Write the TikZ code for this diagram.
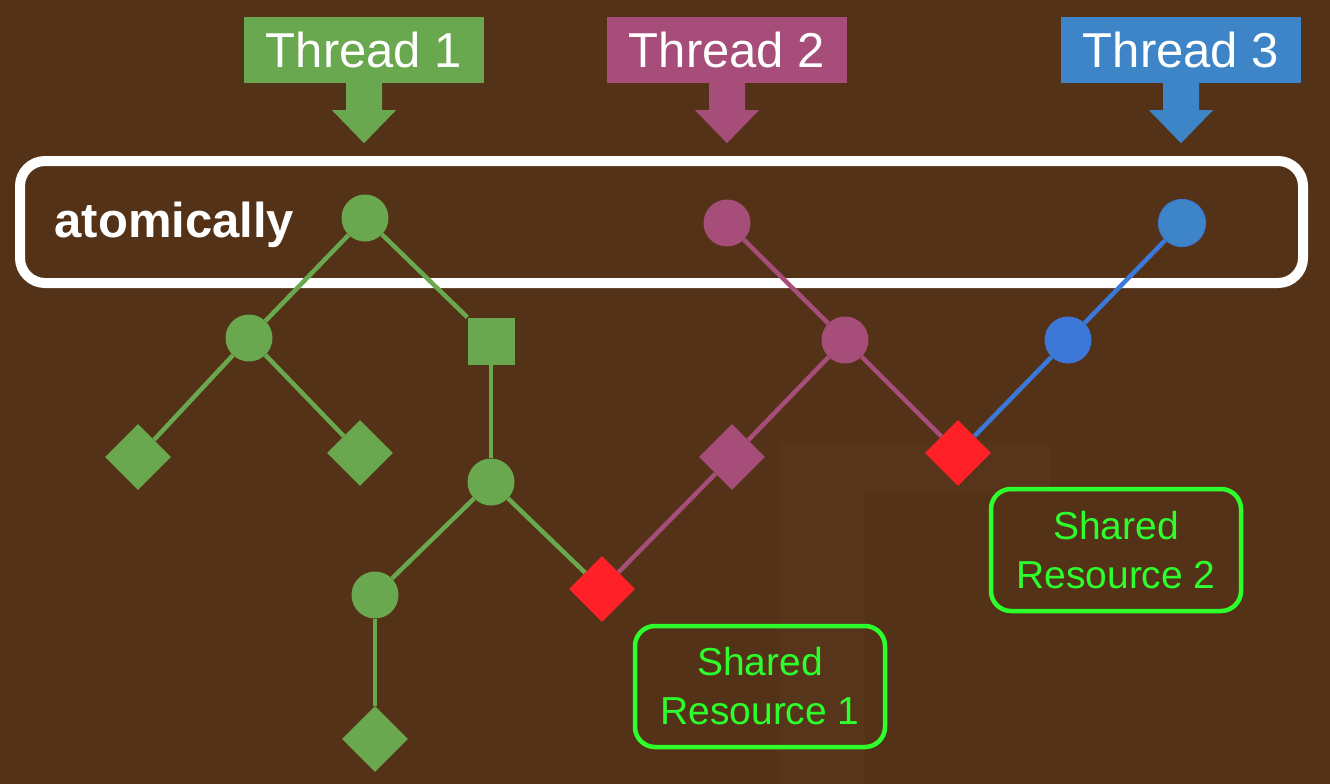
\documentclass[tikz,border=0pt]{standalone}
\usepackage{fontspec}
\setmainfont{Liberation Sans}
\usetikzlibrary{shapes.geometric}
\definecolor{bgc}{RGB}{83,50,23}
\definecolor{bgl}{RGB}{96,61,33}
\definecolor{tgreen}{RGB}{106,168,79}
\definecolor{tpurple}{RGB}{166,77,121}
\definecolor{tblue}{RGB}{61,133,198}
\definecolor{tblueb}{RGB}{60,120,216}
\definecolor{tred}{RGB}{255,32,40}
\definecolor{rgreen}{RGB}{45,255,45}
\tikzset{
  threadbox/.style={rectangle, inner sep=0pt, minimum width=240pt, minimum height=66pt,
    text=white, font=\fontsize{49}{56}\selectfont},
  cnode/.style={circle, inner sep=0pt, minimum size=47pt, fill=#1},
  snode/.style={rectangle, inner sep=0pt, minimum size=47pt, fill=#1},
  dnode/.style={diamond, aspect=1, inner sep=0pt, minimum size=66pt, fill=#1},
  edge/.style={line width=4.5pt, draw=#1},
  resbox/.style={draw=rgreen, line width=4.5pt, rounded corners=20pt, inner sep=0pt,
    minimum width=250pt, text=rgreen, align=center, font=\fontsize{39}{49}\selectfont},
}
\begin{document}
\begin{tikzpicture}[x=1pt,y=-1pt]
\fill[bgc] (0,0) rectangle (1330,784);
\useasboundingbox (0,0) rectangle (1330,784);
% faint background texture band
\fill[bgl, opacity=0.3] (780,443) rectangle (1050,493);
\fill[bgl, opacity=0.3] (780,493) rectangle (865,784);

% atomically box
\node[draw=white, line width=10pt, rounded corners=25pt, minimum width=1283pt,
      minimum height=122pt, inner sep=0pt] (atom) at (661.5,222) {};
\node[text=white, font=\bfseries\fontsize{49}{56}\selectfont, anchor=base west]
      (atomtxt) at (51,237) {atomically};

% thread boxes
\node[threadbox, fill=tgreen] (T1) at (364,50) {Thread 1};
\node[threadbox, fill=tpurple] (T2) at (727,50) {Thread 2};
\node[threadbox, fill=tblue] (T3) at (1181,50) {Thread 3};
\foreach \t/\c in {T1/tgreen,T2/tpurple,T3/tblue}{
  \fill[\c] (\t.south) ++(-18,-1) -- ++(0,28) -- ++(-14,0) -- ++(32,33)
     -- ++(32,-33) -- ++(-14,0) -- ++(0,-28) -- cycle;
}

% nodes thread 1
\node[cnode=tgreen] (g1) at (365,218) {};
\node[cnode=tgreen] (g2) at (249,338) {};
\node[snode=tgreen] (g3) at (491,341) {};
\node[dnode=tgreen] (g4) at (138,457) {};
\node[dnode=tgreen] (g5) at (360,453) {};
\node[cnode=tgreen] (g6) at (491,482) {};
\node[cnode=tgreen] (g7) at (375,595) {};
\node[dnode=tgreen] (g8) at (375,739) {};
% thread 2
\node[cnode=tpurple] (p1) at (727,223) {};
\node[cnode=tpurple] (p2) at (845,340) {};
\node[dnode=tpurple] (p3) at (732,457) {};
% thread 3
\node[cnode=tblue, draw=tblueb, line width=1.2pt] (b1) at (1182,223) {};
\node[cnode=tblueb] (b2) at (1068,340) {};
% shared resources
\node[dnode=tred] (r1) at (602,589) {};
\node[dnode=tred] (r2) at (958,453) {};

% edges
\draw[edge=tgreen] (g1) -- (g2);
\draw[edge=tgreen] (g1) -- (g3.north west);
\draw[edge=tgreen] (g2) -- (g4);
\draw[edge=tgreen] (g2) -- (g5);
\draw[edge=tgreen] (g3) -- (g6);
\draw[edge=tgreen] (g6) -- (g7);
\draw[edge=tgreen] (g6) -- (r1);
\draw[edge=tgreen] (g7) -- (g8);
\draw[edge=tpurple] (p1) -- (p2);
\draw[edge=tpurple] (p2) -- (p3);
\draw[edge=tpurple] (p3) -- (r1);
\draw[edge=tpurple] (p2) -- (r2);
\draw[edge=tblueb] (b1) -- (b2);
\draw[edge=tblueb] (b2) -- (r2);

% resource labels
\node[resbox, minimum height=121pt] (sr1) at (760,686.5) {Shared\\Resource 1};
\node[resbox, minimum height=122pt] (sr2) at (1116,550) {Shared\\Resource 2};
\end{tikzpicture}
\end{document}
